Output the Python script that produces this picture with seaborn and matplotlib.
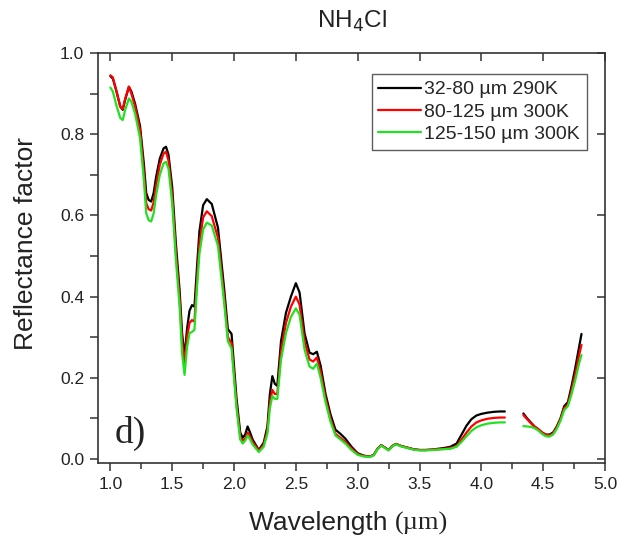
import numpy as np
import pandas as pd
import matplotlib
matplotlib.use("Agg")
import matplotlib.pyplot as plt
from matplotlib.ticker import MultipleLocator, FormatStrFormatter
import seaborn as sns

labels = ["32-80 µm 290K", "80-125 µm 300K", "125-150 µm 300K"]
colors = ["#000000", "#ff0000", "#22e022"]

x1 = [1.00,1.02,1.05,1.08,1.10,1.12,1.15,1.17,1.20,1.24,1.27,1.29,1.31,1.33,1.35,1.37,1.40,1.43,1.45,1.47,
      1.50,1.53,1.56,1.58,1.60,1.62,1.64,1.66,1.68,1.70,1.72,1.75,1.78,1.82,1.87,1.92,1.95,1.98,2.02,2.05,
      2.07,2.09,2.11,2.13,2.15,2.20,2.24,2.27,2.29,2.31,2.33,2.35,2.38,2.42,2.46,2.50,2.53,2.57,2.61,2.64,
      2.67,2.70,2.74,2.78,2.82,2.86,2.90,2.95,3.00,3.05,3.10,3.13,3.16,3.19,3.22,3.25,3.28,3.31,3.35,3.40,
      3.45,3.50,3.55,3.60,3.65,3.70,3.75,3.80,3.84,3.88,3.92,3.96,4.00,4.05,4.10,4.15,4.19]

black1 = [0.943,0.937,0.905,0.868,0.860,0.885,0.917,0.905,0.875,0.820,0.730,0.655,0.638,0.634,0.655,0.695,0.740,0.765,0.769,0.750,
          0.670,0.530,0.415,0.310,0.252,0.320,0.365,0.379,0.375,0.470,0.560,0.625,0.640,0.628,0.570,0.420,0.320,0.308,0.150,0.065,
          0.052,0.060,0.080,0.065,0.048,0.022,0.040,0.080,0.160,0.204,0.185,0.180,0.290,0.360,0.400,0.433,0.410,0.310,0.262,0.258,
          0.264,0.230,0.160,0.110,0.072,0.062,0.050,0.030,0.014,0.008,0.006,0.010,0.025,0.034,0.028,0.022,0.032,0.037,0.032,0.028,
          0.024,0.022,0.022,0.023,0.025,0.027,0.030,0.038,0.060,0.082,0.098,0.107,0.111,0.114,0.116,0.117,0.117]

red1 = [0.945,0.940,0.905,0.868,0.862,0.888,0.917,0.900,0.868,0.810,0.710,0.630,0.615,0.612,0.632,0.675,0.725,0.752,0.757,0.735,
        0.650,0.510,0.395,0.290,0.235,0.300,0.335,0.342,0.338,0.440,0.530,0.595,0.610,0.598,0.545,0.400,0.300,0.285,0.135,0.055,
        0.045,0.050,0.065,0.055,0.042,0.020,0.035,0.070,0.140,0.170,0.160,0.160,0.265,0.335,0.375,0.400,0.380,0.290,0.245,0.240,
        0.250,0.215,0.150,0.100,0.062,0.052,0.042,0.026,0.012,0.007,0.006,0.010,0.025,0.034,0.028,0.022,0.032,0.037,0.032,0.028,
        0.024,0.022,0.022,0.023,0.024,0.025,0.027,0.032,0.048,0.065,0.080,0.090,0.095,0.099,0.101,0.102,0.102]

green1 = [0.915,0.905,0.870,0.840,0.835,0.860,0.888,0.880,0.850,0.790,0.690,0.605,0.588,0.585,0.605,0.650,0.700,0.728,0.732,0.715,
          0.630,0.490,0.375,0.260,0.207,0.275,0.310,0.313,0.318,0.420,0.505,0.565,0.582,0.575,0.525,0.385,0.290,0.272,0.125,0.048,
          0.038,0.045,0.058,0.048,0.036,0.017,0.030,0.062,0.125,0.155,0.148,0.148,0.245,0.310,0.350,0.371,0.355,0.270,0.228,0.222,
          0.235,0.200,0.140,0.092,0.058,0.048,0.038,0.022,0.010,0.006,0.005,0.009,0.024,0.033,0.027,0.021,0.031,0.036,0.031,0.027,
          0.023,0.021,0.021,0.022,0.023,0.024,0.025,0.030,0.042,0.056,0.069,0.078,0.083,0.087,0.089,0.090,0.090]

x2 = [4.34,4.37,4.40,4.43,4.46,4.49,4.52,4.55,4.58,4.61,4.64,4.67,4.70,4.73,4.76,4.79,4.81]
black2 = [0.112,0.100,0.090,0.080,0.072,0.065,0.060,0.060,0.065,0.080,0.100,0.130,0.140,0.180,0.225,0.275,0.308]
red2 = [0.108,0.098,0.088,0.080,0.074,0.066,0.060,0.058,0.063,0.078,0.098,0.125,0.135,0.170,0.210,0.255,0.281]
green2 = [0.081,0.080,0.079,0.076,0.070,0.062,0.056,0.055,0.060,0.074,0.094,0.120,0.130,0.160,0.195,0.235,0.256]

rows = []
for lab, s1, s2 in zip(labels, [black1, red1, green1], [black2, red2, green2]):
    for xv, yv in zip(x1, s1):
        rows.append((lab, "a", xv, yv))
    for xv, yv in zip(x2, s2):
        rows.append((lab, "b", xv, yv))
df = pd.DataFrame(rows, columns=["series", "seg", "wl", "refl"])

sns.set_style("white")
plt.rcParams["font.family"] = ["Liberation Sans", "DejaVu Sans"]

fig = plt.figure(figsize=(6.35, 5.41), dpi=100)
ax = fig.add_axes([98/635, 1-463/541, (605-98)/635, (463-53)/541])

sns.lineplot(data=df, x="wl", y="refl", hue="series", units="seg", estimator=None,
             palette=dict(zip(labels, colors)), hue_order=labels, linewidth=1.6, ax=ax, sort=False)

ax.set_xlim(0.9, 5.0)
ax.set_ylim(-0.01, 1.0)
ax.xaxis.set_major_locator(MultipleLocator(0.5))
ax.xaxis.set_minor_locator(MultipleLocator(0.25))
ax.yaxis.set_major_locator(MultipleLocator(0.2))
ax.yaxis.set_minor_locator(MultipleLocator(0.1))
ax.xaxis.set_major_formatter(FormatStrFormatter("%.1f"))
ax.yaxis.set_major_formatter(FormatStrFormatter("%.1f"))

tc = "#333333"
for sp in ax.spines.values():
    sp.set_color(tc)
    sp.set_linewidth(1.2)

ax.tick_params(axis="both", which="both", bottom=True, left=True, top=False, right=False)
ax.tick_params(axis="both", which="major", direction="out", length=6, width=1.1, color=tc,
               labelsize=12.5, labelcolor="#222222", pad=4)
ax.tick_params(axis="y", which="minor", direction="out", length=6, width=1.1, color=tc)
ax.tick_params(axis="x", which="minor", direction="out", length=4, width=1.1, color=tc)

# mirrored inward ticks on top and right
axt = ax.secondary_xaxis("top")
axt.set_xticks([1.0, 1.5, 2.0, 2.5, 3.0, 3.5, 4.0, 4.5, 5.0])
axt.tick_params(direction="in", length=6, width=1.1, labeltop=False, color=tc, top=True)
axt.spines["top"].set_visible(False)
axr = ax.secondary_yaxis("right")
axr.set_yticks([0.0, 0.2, 0.4, 0.6, 0.8, 1.0])
axr.tick_params(direction="in", length=6, width=1.1, labelright=False, color=tc, right=True)
axr.spines["right"].set_visible(False)

ax.set_xlabel("")
ax.set_ylabel("Reflectance factor", fontsize=19, color="#222222")
ax.yaxis.set_label_coords(-60/507, (463-243)/410)

fig.text(0.622, (541-530)/541, "Wavelength ", fontsize=19, color="#222222", ha="right", va="baseline")
fig.text(0.622, (541-530)/541, "(µm)", fontsize=19, color="#222222", ha="left", va="baseline",
         family=["Liberation Serif", "DejaVu Serif"])

fig.text(352/635, 1-28/541, "NH$_4$Cl", fontsize=17.5, color="#222222", ha="center", va="baseline")

ax.text(1.035, 0.039, "d)", fontsize=27, family=["Liberation Serif", "DejaVu Serif"], color="#222222",
        ha="left", va="baseline")

leg = ax.legend(loc="upper right", bbox_to_anchor=(0.964, 0.949), fontsize=14, frameon=True,
                fancybox=False, edgecolor="#333333", handlelength=2.2, handletextpad=0.15,
                borderpad=0.35, labelspacing=0.25, borderaxespad=0)
leg.get_frame().set_linewidth(1.0)
for l in leg.get_lines():
    l.set_linewidth(1.6)

fig.savefig("out.png", dpi=100)
